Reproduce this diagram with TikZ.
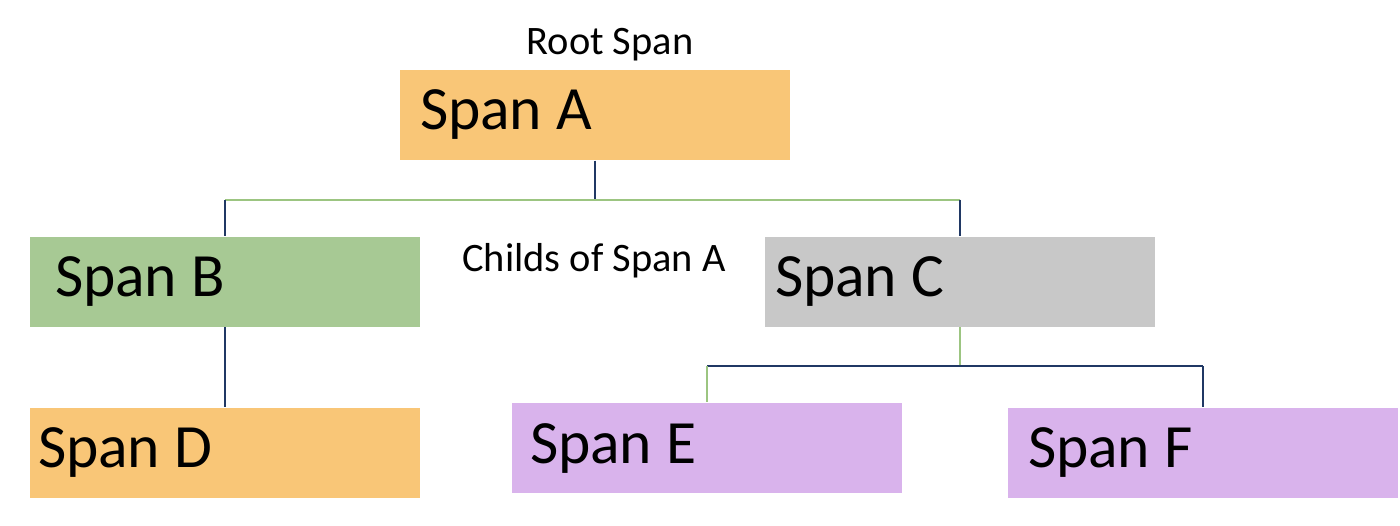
\documentclass[tikz,border=0pt]{standalone}
\usepackage{fontspec}
\setmainfont{Carlito}
\usepackage{xcolor}
\definecolor{spanorange}{HTML}{F9C677}
\definecolor{spangreen}{HTML}{A7C994}
\definecolor{spangray}{HTML}{C8C8C8}
\definecolor{spanpurple}{HTML}{D9B3EC}
\definecolor{navyline}{HTML}{203864}
\definecolor{greenline}{HTML}{9CC581}

\begin{document}
\begin{tikzpicture}[
    span/.style = {rectangle, fill=#1, minimum height=0.9cm,
                text width=3.9cm, inner xsep=0pt, inner ysep=0pt,
                align=left, font=\fontsize{17.5}{20}\selectfont},
    caption/.style = {font=\fontsize{11.5}{14}\selectfont},
    navylink/.style = {navyline, line width=0.5pt},
    greenlink/.style = {greenline, line width=0.5pt}
                    ]
        \useasboundingbox (0,0) rectangle (14,5.25);
        \foreach \x/\y/\c/\n/\s in {5.95/4.10/spanorange/A/0.20cm, 2.25/2.435/spangreen/B/0.25cm,
                9.60/2.435/spangray/C/0.10cm, 2.25/0.725/spanorange/D/0.08cm,
                7.07/0.77/spanpurple/E/0.18cm, 12.03/0.725/spanpurple/F/0.20cm}
            \node[span=\c] (\n) at (\x,\y) {\spaceskip=0pt\hspace*{\s}Span \n};
        \node[caption] (root) at (6.10,4.80) {Root Span};
        \node[caption] (childs) at (5.94,2.64) {Childs of Span A};
        % children of A
        \draw [navylink] (A.south) -- ++(0,-0.39) coordinate (ab);
        \draw [greenlink] (B.north |- ab) -- (C.north |- ab);
        \draw [navylink] (B.north |- ab) -- (B.north);
        \draw [navylink] (C.north |- ab) -- (C.north);
        \draw [navylink] (B.south) -- (D.north);
        % children of C
        \draw [greenlink] (C.south) -- ++(0,-0.39) coordinate (ce);
        \draw [navylink] (E.north |- ce) -- (F.north |- ce);
        \draw [greenlink] (E.north |- ce) -- (E.north);
        \draw [navylink] (F.north |- ce) -- (F.north);
    \end{tikzpicture}
\end{document}
